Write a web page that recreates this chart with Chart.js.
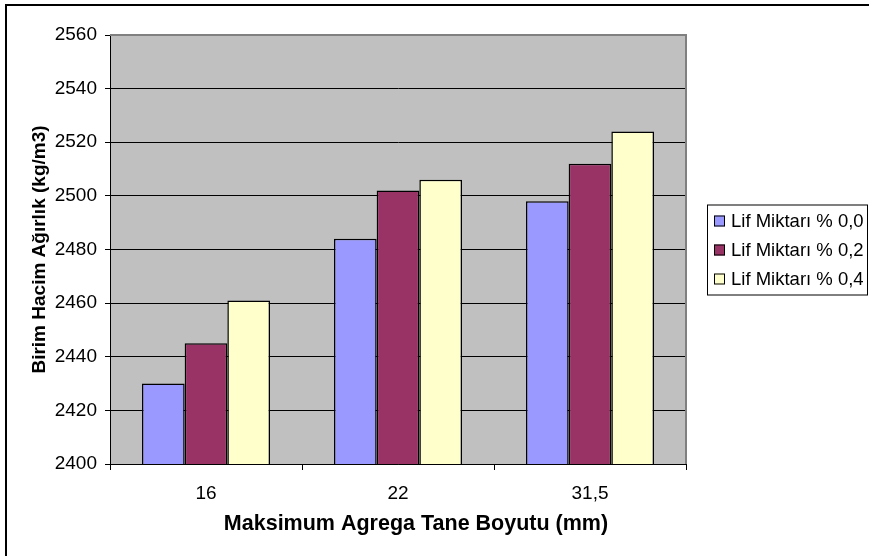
<!DOCTYPE html>
<html>
<head>
<meta charset="utf-8">
<script src="https://cdn.jsdelivr.net/npm/chart.js@4/dist/chart.umd.min.js"></script>
<style>
  html, body { margin: 0; padding: 0; background: #ffffff; overflow: hidden; }
  #wrap { width: 869px; height: 556px; }
</style>
</head>
<body>
<div id="wrap"><canvas id="c" width="869" height="556"></canvas></div>
<script>
// Unit weight of concrete by maximum aggregate size and fibre content
const categories = ['16', '22', '31,5'];
const seriesLabels = ['Lif Miktarı % 0,0', 'Lif Miktarı % 0,2', 'Lif Miktarı % 0,4'];
const fiber00 = [2430, 2484, 2498];
const fiber02 = [2445, 2502, 2512];
const fiber04 = [2461, 2506, 2524];
const seriesColors = ['#9999FF', '#993366', '#FFFFCC'];
const yMin = 2400;
const yMax = 2560;
const yStep = 20;
const xTitle = 'Maksimum Agrega Tane Boyutu (mm)';
const yTitle = 'Birim Hacim Ağırlık (kg/m3)';

const FONT = '"Liberation Sans", Arial, sans-serif';

// Frame lines, grey plot background, plot border and the category-axis title
const frame = {
  id: 'frame',
  beforeDraw(chart) {
    const { ctx, chartArea: a } = chart;
    ctx.save();
    ctx.fillStyle = '#000000';
    ctx.fillRect(5, 4, 864, 2);
    ctx.fillRect(5, 4, 2, 552);
    ctx.fillStyle = '#C0C0C0';
    ctx.fillRect(a.left, a.top, a.right - a.left, a.bottom - a.top);
    ctx.restore();
  },
  afterDatasetsDraw(chart) {
    const { ctx, chartArea: a } = chart;
    ctx.save();
    ctx.strokeStyle = '#808080';
    ctx.lineWidth = 2;
    ctx.beginPath();
    ctx.moveTo(a.left, a.top);
    ctx.lineTo(a.right, a.top);
    ctx.lineTo(a.right, a.bottom);
    ctx.stroke();
    ctx.restore();
  },
  afterDraw(chart) {
    const { ctx, chartArea: a } = chart;
    ctx.save();
    ctx.font = 'bold 21.5px ' + FONT;
    ctx.fillStyle = '#000000';
    ctx.textAlign = 'center';
    ctx.textBaseline = 'middle';
    ctx.fillText(xTitle, (a.left + a.right) / 2 + 18, a.bottom + 60);
    ctx.restore();
  }
};

// Legend in a bordered box to the right of the plot
const boxedLegend = {
  id: 'boxedLegend',
  afterDraw(chart) {
    const { ctx, chartArea: a } = chart;
    const sets = chart.data.datasets;
    const x0 = a.right + 21;
    const cy = (a.top + a.bottom) / 2;
    const rowGap = 29;
    const boxW = 160, boxH = 90;
    const y0 = cy - boxH / 2;
    ctx.save();
    ctx.fillStyle = '#ffffff';
    ctx.fillRect(x0, y0, boxW, boxH);
    ctx.strokeStyle = '#000000';
    ctx.lineWidth = 1;
    ctx.strokeRect(x0 + 0.5, y0 + 0.5, boxW, boxH);
    ctx.font = '18.5px ' + FONT;
    ctx.textBaseline = 'middle';
    ctx.textAlign = 'left';
    sets.forEach((ds, i) => {
      const ry = cy + (i - (sets.length - 1) / 2) * rowGap;
      ctx.fillStyle = ds.backgroundColor;
      ctx.fillRect(x0 + 7, ry - 5, 11, 11);
      ctx.strokeStyle = '#000000';
      ctx.strokeRect(x0 + 7.5, ry - 4.5, 10, 10);
      ctx.fillStyle = '#000000';
      ctx.fillText(ds.label, x0 + 24, ry + 1);
    });
    ctx.restore();
  }
};

const seriesValues = [fiber00, fiber02, fiber04];

new Chart(document.getElementById('c'), {
  type: 'bar',
  data: {
    labels: categories,
    datasets: seriesValues.map((vals, i) => ({
      label: seriesLabels[i],
      data: vals,
      backgroundColor: seriesColors[i],
      borderColor: '#000000',
      borderWidth: 1.5,
      borderSkipped: false,
      categoryPercentage: 0.667,
      barPercentage: 1.0
    }))
  },
  options: {
    responsive: false,
    animation: false,
    devicePixelRatio: 1,
    layout: { padding: { left: 6, top: 35, right: 183, bottom: 0 } },
    plugins: {
      legend: { display: false },
      tooltip: { enabled: false }
    },
    scales: {
      x: {
        grid: {
          offset: true,
          drawOnChartArea: false,
          drawTicks: true,
          tickLength: 6,
          color: '#000000'
        },
        border: { display: true, color: '#000000', width: 1 },
        ticks: {
          color: '#000000',
          font: { family: FONT, size: 19 },
          padding: 12
        },
        afterFit(scale) { scale.height = 92; }
      },
      y: {
        min: yMin,
        max: yMax,
        ticks: {
          stepSize: yStep,
          color: '#000000',
          font: { family: FONT, size: 19 },
          padding: 8,
          callback: (v) => String(v)
        },
        grid: {
          color: '#000000',
          lineWidth: 1,
          drawTicks: true,
          tickLength: 5
        },
        border: { display: true, color: '#000000', width: 1 },
        title: {
          display: true,
          text: yTitle,
          color: '#000000',
          font: { family: FONT, size: 19, weight: 'bold' },
          padding: { top: 22, bottom: 0 }
        },
        afterFit(scale) { scale.width = 104; }
      }
    }
  },
  plugins: [frame, boxedLegend]
});
</script>
</body>
</html>
